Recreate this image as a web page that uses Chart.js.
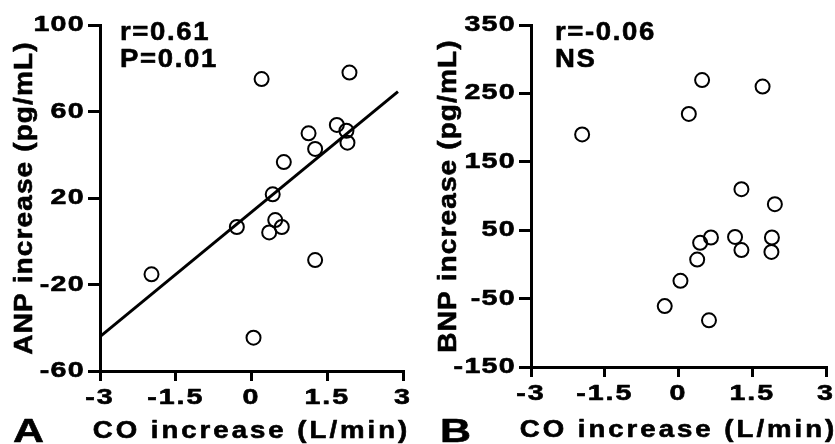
<!DOCTYPE html>
<html>
<head>
<meta charset="utf-8">
<script src="https://cdn.jsdelivr.net/npm/chart.js@4.4.0/dist/chart.umd.min.js"></script>
<style>
  html, body { margin: 0; padding: 0; background: #fff; overflow: hidden; width: 835px; height: 444px; }
  #wrap { position: relative; width: 835px; height: 444px; }
  canvas { position: absolute; top: 0; }
  #cA { left: 0; }
  #cB { left: 418px; }
</style>
</head>
<body>
<div id="wrap">
  <canvas id="cA" width="418" height="444"></canvas>
  <canvas id="cB" width="417" height="444"></canvas>
</div>
<script>
// ---------- data ----------
const xTicks = [-3, -1.5, 0, 1.5, 3];
const xTickLabels = ['-3', '-1.5', '0', '1.5', '3'];
const xTitle = 'CO increase (L/min)';

// Panel A: ANP
const anpCO     = [-1.98, 0.20, 1.94, 1.69, 1.88, 1.90, 1.13, 1.26, 0.64, 0.42, -0.29, 0.47, 0.35, 0.60, 1.26, 0.04];
const anpValues = [-15.3, 75.0, 78.0, 53.8, 51.1, 45.6, 49.9, 42.7, 36.6, 21.7, 6.6, 9.8, 4.1, 6.6, -8.7, -44.6];
const anpFitX   = [-3, 2.9];
const anpFitY   = [-44.1, 69.2];
const anpYTicks = [-60, -20, 20, 60, 100];
const anpYTickLabels = ['-60', '-20', '20', '60', '100'];
const anpYTitle = 'ANP increase (pg/mL)';
const anpNotes  = ['r=0.61', 'P=0.01'];
const anpPanel  = 'A';

// Panel B: BNP
const bnpCO     = [-1.96, 0.48, 0.21, 1.71, 1.28, 1.96, 0.66, 0.44, 1.15, 1.28, 1.90, 1.89, 0.38, 0.04, -0.28, 0.62];
const bnpValues = [190, 269.5, 220, 260, 110, 88, 39.3, 31.5, 40.2, 21, 39.3, 18.3, 7, -24, -61, -81.7];
const bnpYTicks = [-150, -50, 50, 150, 250, 350];
const bnpYTickLabels = ['-150', '-50', '50', '150', '250', '350'];
const bnpYTitle = 'BNP increase (pg/mL)';
const bnpNotes  = ['r=-0.06', 'NS'];
const bnpPanel  = 'B';

// ---------- helpers ----------
const FAMILY = '"Liberation Sans", Arial, Helvetica, sans-serif';

function zipXY(xs, ys) { return xs.map((x, i) => ({ x: x, y: ys[i] })); }

// Draw text horizontally stretched / spaced (the reference uses a wide, heavy bold face)
function withStretch(ctx, st, fn) {
  const orig = CanvasRenderingContext2D.prototype.fillText;
  const origStroke = CanvasRenderingContext2D.prototype.strokeText;
  ctx.fillText = function (t, x, y) {
    this.save();
    this.translate(x, y);
    this.scale(st.sx, 1);
    this.letterSpacing = (st.ls || 0) + 'px';
    if (st.stroke > 0) {
      this.lineWidth = st.stroke;
      this.strokeStyle = this.fillStyle;
      this.lineJoin = 'round';
      origStroke.call(this, t, 0, 0);
    }
    orig.call(this, t, 0, 0);
    this.restore();
  };
  try { fn(); } finally { delete ctx.fillText; }
}

function stretchPlugin(map) {
  return {
    id: 'stretch',
    afterUpdate(chart) {
      for (const id in chart.scales) {
        const s = chart.scales[id];
        if (s.__wrapped) continue;
        s.__wrapped = true;
        const cfg = map[id];
        const dl = s.drawLabels, dt = s.drawTitle;
        s.drawLabels = function (a) { withStretch(this.ctx, cfg.ticks, () => dl.call(this, a)); };
        s.drawTitle = function (a) { withStretch(this.ctx, cfg.title, () => dt.call(this, a)); };
      }
    }
  };
}

function notesPlugin(notes, dx, baselines, panel, panelX) {
  return {
    id: 'notes',
    afterDraw(chart) {
      const c = chart.ctx;
      c.save();
      c.fillStyle = '#000';
      c.textAlign = 'left';
      c.textBaseline = 'alphabetic';
      c.font = 'bold 25px ' + FAMILY;
      withStretch(c, { sx: 1.1, ls: 1.5, stroke: 0.6 }, () => {
        notes.forEach((t, i) => c.fillText(t, chart.chartArea.left + dx, baselines[i]));
      });
      c.font = 'bold 33px ' + FAMILY;
      withStretch(c, { sx: 1.3, ls: 0, stroke: 0.6 }, () => { c.fillText(panel, panelX, 442); });
      c.restore();
    }
  };
}

function buildChart(canvas, o) {
  const datasets = [
    {
      data: zipXY(o.xs, o.ys),
      showLine: false,
      pointRadius: 7,
      pointHoverRadius: 7,
      pointBorderWidth: 2,
      pointBorderColor: '#000',
      pointBackgroundColor: 'rgba(0,0,0,0)'
    }
  ];
  if (o.fitX) {
    datasets.push({
      data: zipXY(o.fitX, o.fitY),
      showLine: true,
      borderColor: '#000',
      borderWidth: 3,
      pointRadius: 0,
      fill: false
    });
  }
  return new Chart(canvas, {
    type: 'scatter',
    data: { datasets: datasets },
    options: {
      responsive: false,
      animation: false,
      devicePixelRatio: 1,
      events: [],
      layout: { padding: { left: 0, top: 25, right: o.padRight, bottom: 0 } },
      plugins: { legend: { display: false }, tooltip: { enabled: false } },
      scales: {
        x: {
          type: 'linear', position: 'bottom', min: -3, max: 3,
          afterBuildTicks: s => { s.ticks = xTicks.map(v => ({ value: v })); },
          afterFit: s => { s.height = o.xHeight; s.paddingLeft = 0; s.paddingRight = 0; },
          grid: { drawOnChartArea: false, drawTicks: true, tickLength: 10, color: '#000', lineWidth: 3 },
          border: { display: true, color: '#000', width: 3 },
          ticks: {
            color: '#000', padding: 4, maxRotation: 0, autoSkip: false,
            font: { family: FAMILY, size: 22, weight: 'bold' },
            callback: (v) => { const i = xTicks.indexOf(v); return i >= 0 ? xTickLabels[i] : ''; }
          },
          title: {
            display: true, text: xTitle, color: '#000',
            font: { family: FAMILY, size: 24, weight: 'bold', lineHeight: 1 },
            padding: { top: 0, bottom: o.xTitlePad }
          }
        },
        y: {
          type: 'linear', position: 'left', min: o.yMin, max: o.yMax,
          afterBuildTicks: s => { s.ticks = o.yTicks.map(v => ({ value: v })); },
          afterFit: s => { s.width = o.yWidth; s.paddingTop = 0; s.paddingBottom = 0; },
          grid: { drawOnChartArea: false, drawTicks: true, tickLength: 12, color: '#000', lineWidth: 3 },
          border: { display: true, color: '#000', width: 3 },
          ticks: {
            color: '#000', padding: 3, autoSkip: false,
            font: { family: FAMILY, size: 22, weight: 'bold' },
            callback: (v) => { const i = o.yTicks.indexOf(v); return i >= 0 ? o.yTickLabels[i] : ''; }
          },
          title: {
            display: true, text: o.yTitle, color: '#000',
            font: { family: FAMILY, size: 26, weight: 'bold', lineHeight: 1 },
            padding: { top: o.yTitlePad, bottom: 0 }
          }
        }
      }
    },
    plugins: [
      stretchPlugin({
        x: { ticks: { sx: 1.3, ls: 1.5, stroke: 0.6 }, title: { sx: 1.15, ls: 2.6, stroke: 0.6 } },
        y: { ticks: { sx: 1.3, ls: 1, stroke: 0.6 }, title: { sx: 1.08, ls: 1, stroke: 0.6 } }
      }),
      notesPlugin(o.notes, o.noteDx, [40, 67], o.panel, o.panelX)
    ]
  });
}

buildChart(document.getElementById('cA'), {
  xs: anpCO, ys: anpValues, fitX: anpFitX, fitY: anpFitY,
  yMin: -60, yMax: 100, yTicks: anpYTicks, yTickLabels: anpYTickLabels, yTitle: anpYTitle,
  yWidth: 100, xHeight: 73, padRight: 15, xTitlePad: 1, yTitlePad: 12,
  notes: anpNotes, noteDx: 20, panel: anpPanel, panelX: 13
});

buildChart(document.getElementById('cB'), {
  xs: bnpCO, ys: bnpValues,
  yMin: -150, yMax: 350, yTicks: bnpYTicks, yTickLabels: bnpYTickLabels, yTitle: bnpYTitle,
  yWidth: 113, xHeight: 77, padRight: 7, xTitlePad: 2, yTitlePad: 18,
  notes: bnpNotes, noteDx: 24, panel: bnpPanel, panelX: 22
});
</script>
</body>
</html>
